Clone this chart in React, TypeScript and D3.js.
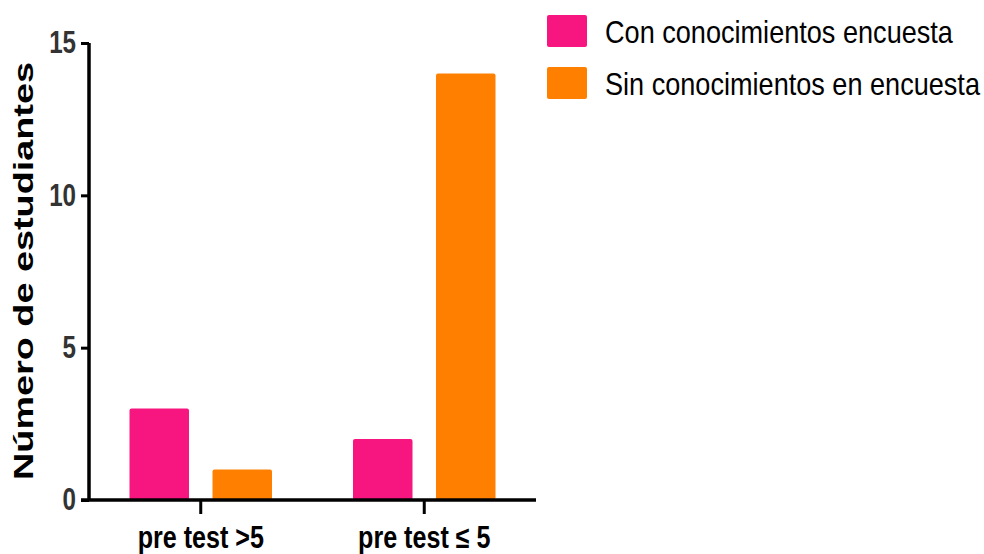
import React, { useEffect, useRef } from "react";
import * as d3 from "d3";

const categories = ["pre test >5", "pre test \u2264 5"];
const seriesNames = ["Con conocimientos encuesta", "Sin conocimientos en encuesta"];
const conValues = [3, 2];
const sinValues = [1, 14];
const yTicks = [0, 5, 10, 15];
const colors = ["#f7167f", "#ff8000"];

const sans = "'Liberation Sans', Arial, sans-serif";

// no narrow font installed, so squeeze glyphs horizontally around their x
function condense(sel: any, factor: number) {
  sel.each(function (this: SVGTextElement) {
    const t = d3.select(this);
    const x = +(t.attr("x") || 0);
    t.attr("x", x / factor).attr("transform", `scale(${factor},1)`);
  });
}

export default function App() {
  const ref = useRef<SVGSVGElement>(null);

  useEffect(() => {
    const width = 984;
    const height = 554;
    const margin = { top: 43, right: 448, bottom: 54, left: 89 };
    const svg = d3.select(ref.current).attr("width", width).attr("height", height);
    svg.selectAll("*").remove();

    const y = d3.scaleLinear().domain([0, 15]).range([height - margin.bottom, margin.top]);
    const x0 = d3.scaleBand().domain(categories).range([margin.left, width - margin.right]).padding(0);
    const x1 = d3.scaleBand().domain(seriesNames).range([0, x0.bandwidth()]).paddingInner(0.283).paddingOuter(0.488);

    const data = categories.map((c, i) => ({ cat: c, vals: [conValues[i], sinValues[i]] }));

    // bars
    const g = svg.append("g");
    data.forEach(d => {
      d.vals.forEach((v, j) => {
        g.append("rect")
          .attr("x", x0(d.cat)! + x1(seriesNames[j])!)
          .attr("y", y(v))
          .attr("width", x1.bandwidth())
          .attr("height", y(0) - y(v))
          .attr("rx", 2)
          .attr("fill", colors[j]);
      });
    });

    // y axis
    const yAxis = svg.append("g")
      .attr("transform", `translate(${margin.left},0)`)
      .call(d3.axisLeft(y).tickValues(yTicks).tickSize(8).tickPadding(5).tickFormat(d3.format("d")));
    yAxis.select(".domain").attr("stroke", "#000").attr("stroke-width", 3.5).attr("d", `M0,${y(15)}V${y(0)}`);
    yAxis.selectAll(".tick line").attr("stroke", "#000").attr("stroke-width", 3);
    const yt = yAxis.selectAll(".tick text")
      .style("font-family", sans).style("font-weight", "bold").style("font-size", "31px")
      .attr("fill", "#333");
    condense(yt, 0.78);

    // x axis
    const xAxis = svg.append("g")
      .attr("transform", `translate(0,${y(0)})`)
      .call(d3.axisBottom(x0).tickSize(14).tickPadding(12));
    xAxis.select(".domain").attr("stroke", "#000").attr("stroke-width", 3.5)
      .attr("d", `M${margin.left - 8},0H${width - margin.right}`);
    xAxis.selectAll(".tick line").attr("stroke", "#000").attr("stroke-width", 3);
    const xt = xAxis.selectAll(".tick text")
      .style("font-family", sans).style("font-weight", "bold").style("font-size", "31px")
      .attr("fill", "#000");
    condense(xt, 0.81);

    // y axis title
    svg.append("text")
      .attr("transform", `translate(33,${271}) rotate(-90)`)
      .attr("text-anchor", "middle")
      .attr("textLength", 418)
      .attr("lengthAdjust", "spacingAndGlyphs")
      .style("font-family", sans)
      .style("font-weight", "bold")
      .style("font-size", "28px")
      .text("Número de estudiantes");

    // legend
    const legend = svg.append("g");
    const legendWidths = [348, 375];
    seriesNames.forEach((s, i) => {
      const yy = 15 + i * 52;
      legend.append("rect")
        .attr("x", 547).attr("y", yy).attr("width", 40).attr("height", 32).attr("rx", 2)
        .attr("fill", colors[i]);
      const t = legend.append("text")
        .attr("x", 605).attr("y", yy + 28)
        .style("font-family", sans).style("font-size", "31px")
        .attr("fill", "#000")
        .text(s);
      const natural = (t.node() as SVGTextElement).getComputedTextLength();
      condense(t, legendWidths[i] / natural);
    });
  }, []);

  return <svg ref={ref} style={{ position: "absolute", left: 0, top: 0, background: "#fff" }} />;
}
